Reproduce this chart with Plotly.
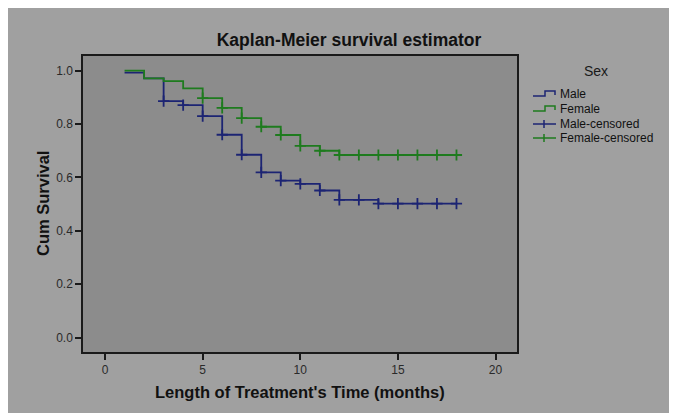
import plotly.graph_objects as go

# ---- data ----
male_times = [1, 2, 3, 4, 5, 6, 7, 8, 9, 10, 11, 12, 13, 14, 15, 16, 17, 18]
male_surv = [0.993, 0.971, 0.886, 0.871, 0.830, 0.760, 0.685, 0.619, 0.588,
             0.576, 0.551, 0.516, 0.516, 0.502, 0.502, 0.502, 0.502, 0.502]
male_censored_times = [3, 4, 5, 6, 7, 8, 9, 10, 11, 12, 13, 14, 15, 16, 17, 18]

female_times = [1, 2, 3, 4, 5, 6, 7, 8, 9, 10, 11, 12, 13, 14, 15, 16, 17, 18]
female_surv = [1.000, 0.971, 0.961, 0.934, 0.897, 0.861, 0.822, 0.790, 0.759,
               0.718, 0.700, 0.684, 0.684, 0.684, 0.684, 0.684, 0.684, 0.684]
female_censored_times = [5, 6, 7, 8, 9, 10, 11, 12, 13, 14, 15, 16, 17, 18]

legend_labels = ["Male", "Female", "Male-censored", "Female-censored"]
x_ticks = [0, 5, 10, 15, 20]
y_ticks = [0.0, 0.2, 0.4, 0.6, 0.8, 1.0]
y_tick_labels = ["0.0", "0.2", "0.4", "0.6", "0.8", "1.0"]

BLUE = "#1c2473"
GREEN = "#1e7b1e"
FONT = "Liberation Sans, Arial, sans-serif"

male_lookup = dict(zip(male_times, male_surv))
female_lookup = dict(zip(female_times, female_surv))

fig = go.Figure()
fig.add_trace(go.Scatter(x=male_times, y=male_surv, mode="lines", name=legend_labels[0],
                         line=dict(color=BLUE, width=1.8, shape="hv"), showlegend=False))
fig.add_trace(go.Scatter(x=female_times, y=female_surv, mode="lines", name=legend_labels[1],
                         line=dict(color=GREEN, width=1.8, shape="hv"), showlegend=False))
fig.add_trace(go.Scatter(x=male_censored_times,
                         y=[male_lookup[t] for t in male_censored_times],
                         mode="markers", name=legend_labels[2], showlegend=False,
                         marker=dict(symbol="cross-thin", size=8,
                                     line=dict(color=BLUE, width=1.8), color=BLUE)))
fig.add_trace(go.Scatter(x=female_censored_times,
                         y=[female_lookup[t] for t in female_censored_times],
                         mode="markers", name=legend_labels[3], showlegend=False,
                         marker=dict(symbol="cross-thin", size=8,
                                     line=dict(color=GREEN, width=1.8), color=GREEN)))

# page body has an 8px margin; positions below are measured on the reference page
OFF = 8
W, H = 677, 413
L, T = 83 - OFF, 56 - OFF
R = W - (517 - OFF)
B = H - (352 - OFF)
pw, ph = W - L - R, H - T - B


def px(x):
    return (x - OFF - L) / pw


def py(y):
    return 1 - (y - OFF - T) / ph


axis_common = dict(showline=True, linecolor="#1a1a1a", linewidth=1.5, mirror=True,
                   ticks="outside", ticklen=6, tickwidth=1.5, tickcolor="#1a1a1a",
                   showgrid=False, zeroline=False,
                   tickfont=dict(family=FONT, size=12, color="#2a2a2a"))

annotations = [
    dict(text="<b>Cum Survival</b>", xref="paper", yref="paper",
         x=px(43), y=py(204), textangle=-90, showarrow=False,
         xanchor="center", yanchor="middle", font=dict(size=16.5, color="#111111")),
    dict(text="<b>Length of Treatment's Time (months)</b>", xref="paper",
         yref="paper", x=px(300), y=py(392), showarrow=False,
         xanchor="center", yanchor="middle", font=dict(size=16.5, color="#111111")),
    dict(text="Sex", xref="paper", yref="paper", x=px(596), y=py(71),
         showarrow=False, xanchor="center", yanchor="middle",
         font=dict(size=14, color="#1a1a1a")),
]

shapes = []
legend_rows = [94, 109, 124, 138]
colors = [BLUE, GREEN, BLUE, GREEN]
for i, (label, ypix, col) in enumerate(zip(legend_labels, legend_rows, colors)):
    annotations.append(dict(text=label, xref="paper", yref="paper", x=px(558),
                            y=py(ypix), showarrow=False, xanchor="left",
                            yanchor="middle", font=dict(size=12, color="#111111")))
    if i < 2:
        pts = [(533, ypix + 2), (545, ypix + 2), (545, ypix - 3), (555, ypix - 3),
               (555, ypix + 1)]
        path = "M " + " L ".join(f"{px(a):.5f},{py(b):.5f}" for a, b in pts)
        shapes.append(dict(type="path", xref="paper", yref="paper", path=path,
                           line=dict(color=col, width=1.5)))
    else:
        shapes.append(dict(type="line", xref="paper", yref="paper",
                           x0=px(533), x1=px(556), y0=py(ypix), y1=py(ypix),
                           line=dict(color=col, width=1.5)))
        shapes.append(dict(type="line", xref="paper", yref="paper",
                           x0=px(544), x1=px(544), y0=py(ypix - 4), y1=py(ypix + 4),
                           line=dict(color=col, width=1.5)))

fig.update_layout(
    width=W, height=H,
    margin=dict(l=L, r=R, t=T, b=B),
    paper_bgcolor="#a0a0a0",
    plot_bgcolor="#8c8c8c",
    font=dict(family=FONT, color="#111111"),
    title=dict(text="<b>Kaplan-Meier survival estimator</b>",
               font=dict(size=17.5, color="#111111"),
               xref="paper", x=px(349), xanchor="center",
               yref="container", y=1 - (40 - OFF) / H, yanchor="middle"),
    xaxis=dict(range=[-1.13, 21.1], tickvals=x_ticks, **axis_common),
    yaxis=dict(range=[-0.054, 1.055], tickvals=y_ticks, ticktext=y_tick_labels,
               **axis_common),
    showlegend=False,
    annotations=annotations,
    shapes=shapes,
)

fig.write_html("out.html")
